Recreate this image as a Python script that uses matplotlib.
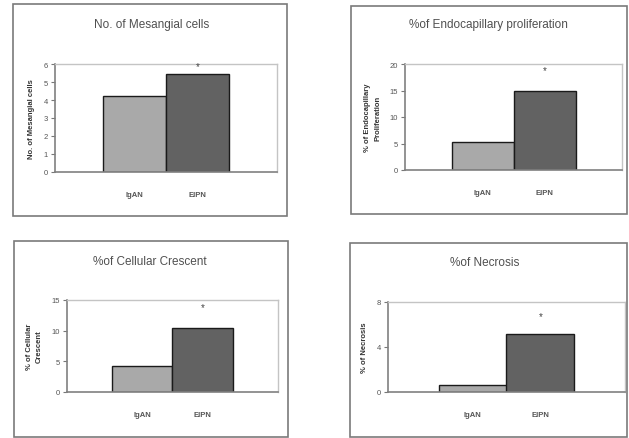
import matplotlib.pyplot as plt
from matplotlib.patches import Rectangle

# Data
groups = ["IgAN", "EIPN"]
titles = ["No. of Mesangial cells", "%of Endocapillary proliferation",
          "%of Cellular Crescent", "%of Necrosis"]
ylabels = ["No. of Mesangial cells", "% of Endocapillary\nProliferation",
           "% of Cellular\nCrescent", "% of Necrosis"]
mesangial = [4.25, 5.45]
endocapillary = [5.2, 15.0]
crescent = [4.25, 10.5]
necrosis = [0.65, 5.2]
values = [mesangial, endocapillary, crescent, necrosis]
yticks = [[0, 1, 2, 3, 4, 5, 6], [0, 5, 10, 15, 20], [0, 5, 10, 15], [0, 4, 8]]

W, H = 629, 439
fig = plt.figure(figsize=(W / 100, H / 100), dpi=100)
plt.rcParams['font.family'] = ['Liberation Sans', 'DejaVu Sans']


def frac(x0, y0, x1, y1):
    # pixel box (top-left origin) -> figure fraction
    return [x0 / W, 1 - y1 / H, (x1 - x0) / W, (y1 - y0) / H]


# pixel layouts: outer box, plot area, title centre, star offset
boxes = [(13, 5, 287, 217), (351, 7, 627, 215), (14, 242, 288, 438), (350, 244, 627, 438)]
areas = [(55, 65, 277, 173), (405, 65, 622, 171), (67, 301, 278, 393), (388, 303, 625, 393)]
title_pos = [(152, 25), (488, 25), (150, 262), (485, 263)]
star_off = [2, 11, 11, 9]

colors = ["#a9a9a9", "#626262"]

for i in range(4):
    b = frac(*boxes[i])
    fig.patches.append(Rectangle((b[0], b[1]), b[2], b[3], transform=fig.transFigure,
                                 fill=False, edgecolor="#7a7a7a", linewidth=1.2))
    tx, ty = title_pos[i]
    fig.text(tx / W, 1 - ty / H, titles[i], ha="center", va="center",
             fontsize=8.5, color="#505050")

    ax = fig.add_axes(frac(*areas[i]))
    bars = ax.bar([0, 1], values[i], width=1.0, color=colors,
                  edgecolor="#1a1a1a", linewidth=1.0)
    ax.set_xlim(-1.25, 2.25)
    ax.set_ylim(0, yticks[i][-1])
    ax.set_yticks(yticks[i])
    ax.set_xticks([0, 1])
    ax.set_xticklabels(groups, fontsize=5.5, fontweight="bold", color="#555555")
    ax.tick_params(axis="x", length=0, pad=14)
    ax.tick_params(axis="y", length=3, width=0.8, labelsize=5.5, color="#777777",
                   labelcolor="#555555", pad=2)
    for s in ["top", "right"]:
        ax.spines[s].set_color("#c4c4c4")
        ax.spines[s].set_linewidth(1.0)
    for s in ["left", "bottom"]:
        ax.spines[s].set_color("#808080")
        ax.spines[s].set_linewidth(1.2)
    ax.set_ylabel(ylabels[i], fontsize=5.5, fontweight="bold", color="#333333",
                  labelpad=6, linespacing=1.6)
    ax.annotate("*", (1, values[i][1]), xytext=(0, star_off[i]),
                textcoords="offset points", ha="center", va="bottom",
                fontsize=7, color="#444444")

fig.savefig("out.png", dpi=100)
